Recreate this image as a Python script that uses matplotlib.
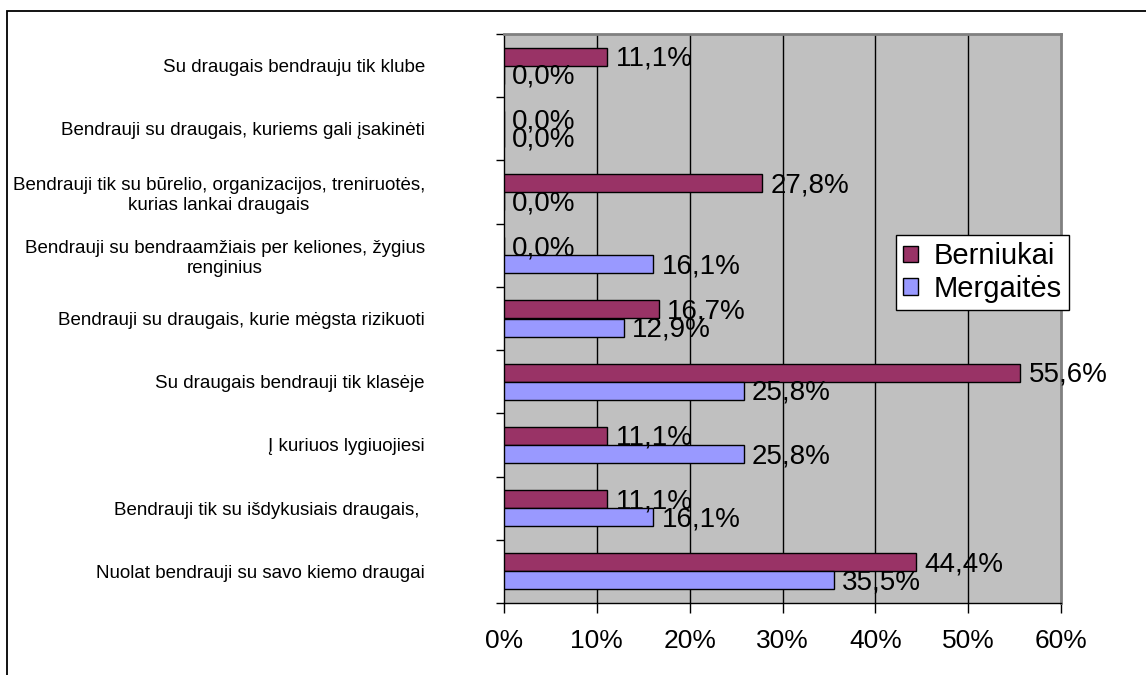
import matplotlib
matplotlib.use("Agg")
import matplotlib.pyplot as plt
from matplotlib.patches import Rectangle, Patch
import numpy as np

plt.rcParams["font.family"] = ["Liberation Sans", "DejaVu Sans"]

categories = [
    "Su draugais bendrauju tik klube",
    "Bendrauji su draugais, kuriems gali įsakinėti",
    "Bendrauji tik su būrelio, organizacijos, treniruotės,\nkurias lankai draugais",
    "Bendrauji su bendraamžiais per keliones, žygius\nrenginius",
    "Bendrauji su draugais, kurie mėgsta rizikuoti",
    "Su draugais bendrauji tik klasėje",
    "Į kuriuos lygiuojiesi",
    "Bendrauji tik su išdykusiais draugais, ",
    "Nuolat bendrauji su savo kiemo draugai",
]
berniukai = [11.1, 0.0, 27.8, 0.0, 16.7, 55.6, 11.1, 11.1, 44.4]
mergaites = [0.0, 0.0, 0.0, 16.1, 12.9, 25.8, 25.8, 16.1, 35.5]
series_names = ["Berniukai", "Mergaitės"]
x_ticks = [0, 10, 20, 30, 40, 50, 60]

W, H = 1146, 675
fig = plt.figure(figsize=(W / 100, H / 100), dpi=100)

# outer chart frame (runs off the right/bottom edge as in the original)
fig.patches.append(Rectangle((7 / W, -0.2), 2.0, 1 - 11 / H + 0.2, transform=fig.transFigure,
                             fill=False, edgecolor="black", linewidth=1.3))

ax = fig.add_axes([504 / W, 1 - 603 / H, (1061 - 504) / W, (603 - 34) / H])
ax.set_facecolor("#C0C0C0")

y = np.arange(len(categories))
h = 0.2857
col_b, col_m = "#993366", "#9999FF"

ax.barh(y - h / 2, berniukai, height=h, color=col_b, edgecolor="black", linewidth=1, zorder=3)
ax.barh(y + h / 2, mergaites, height=h, color=col_m, edgecolor="black", linewidth=1, zorder=3)

for yy, v in zip(y - h / 2, berniukai):
    ax.annotate(f"{v:.1f}%".replace(".", ","), (v, yy), xytext=(6, -1.5), textcoords="offset points",
                ha="left", va="center", fontsize=20, zorder=4)
for yy, v in zip(y + h / 2, mergaites):
    ax.annotate(f"{v:.1f}%".replace(".", ","), (v, yy), xytext=(6, -1.5), textcoords="offset points",
                ha="left", va="center", fontsize=20, zorder=4)

ax.set_xlim(0, 60)
ax.set_ylim(len(categories) - 0.5, -0.5)

ax.set_xticks(x_ticks)
ax.set_xticklabels([f"{t}%" for t in x_ticks], fontsize=19)
ax.tick_params(axis="x", direction="out", length=7, width=1, pad=12, color="black")
for t in x_ticks[1:-1]:
    ax.axvline(t, color="black", linewidth=1, zorder=1)

# ticks between categories, labels in the middle
ax.set_yticks(np.arange(len(categories) + 1) - 0.5)
ax.set_yticklabels([])
ax.set_yticks(y, minor=True)
ax.set_yticklabels(categories, minor=True, fontsize=13.5, multialignment="center")
ax.tick_params(axis="y", which="major", direction="out", length=6, width=1, color="black")
ax.tick_params(axis="y", which="minor", length=0, pad=57)

for s in ["top", "right"]:
    ax.spines[s].set_color("#808080")
    ax.spines[s].set_linewidth(2)
for s in ["left", "bottom"]:
    ax.spines[s].set_color("black")
    ax.spines[s].set_linewidth(1)

handles = [Patch(facecolor=col_b, edgecolor="black", linewidth=1),
           Patch(facecolor=col_m, edgecolor="black", linewidth=1)]
leg = fig.legend(handles, series_names, loc="upper left",
                 bbox_to_anchor=(896 / W, 1 - 235 / H), bbox_transform=fig.transFigure,
                 borderaxespad=0, fontsize=21, handlelength=0.5, handleheight=0.5,
                 handletextpad=0.55, borderpad=0.25, labelspacing=0.15, fancybox=False,
                 framealpha=1, edgecolor="black")
leg.get_frame().set_linewidth(1)

fig.savefig("out.png", dpi=100)
